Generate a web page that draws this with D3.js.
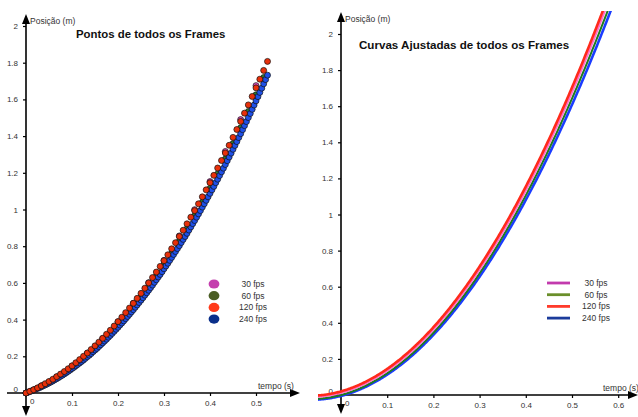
<!DOCTYPE html>
<html><head><meta charset="utf-8">
<script src="https://cdn.jsdelivr.net/npm/d3@7"></script>
<style>
html,body{margin:0;padding:0;background:#fff;}
svg{display:block;}
text{font-family:"Liberation Sans",Arial,sans-serif;}
</style></head>
<body>
<svg id="chart" width="638" height="417"></svg>
<script>
// ---------- DATA ----------
const seriesNames = ["30 fps", "60 fps", "120 fps", "240 fps"];
const fpsRates = [30, 60, 120, 240];
// positions (m) per frame, frame i at time i/fps
const pos30 = [0, 0.039, 0.088, 0.147, 0.217, 0.297, 0.388, 0.489, 0.601, 0.723, 0.856, 0.999, 1.152, 1.316, 1.490, 1.675];
const pos60 = [0, 0.017, 0.037, 0.059, 0.083, 0.110, 0.140, 0.173, 0.208, 0.245, 0.285, 0.328, 0.373, 0.421, 0.471, 0.524,
  0.579, 0.637, 0.698, 0.761, 0.827, 0.895, 0.966, 1.039, 1.115, 1.194, 1.275, 1.359, 1.445, 1.534, 1.625, 1.719];
const pos120 = [0, 0.009, 0.018, 0.028, 0.039, 0.051, 0.063, 0.075, 0.089, 0.103, 0.117, 0.132, 0.148, 0.165, 0.182, 0.200,
  0.218, 0.237, 0.257, 0.277, 0.298, 0.320, 0.342, 0.365, 0.389, 0.413, 0.438, 0.463, 0.489, 0.516, 0.543, 0.571,
  0.600, 0.629, 0.659, 0.690, 0.721, 0.753, 0.786, 0.819, 0.853, 0.887, 0.922, 0.958, 0.994, 1.031, 1.069, 1.107,
  1.146, 1.186, 1.226, 1.267, 1.308, 1.350, 1.393, 1.436, 1.480, 1.525, 1.570, 1.616, 1.663, 1.710, 1.758, 1.807];
const pos240 = [0, 0.004, 0.008, 0.012, 0.016, 0.020, 0.025, 0.029, 0.034, 0.039, 0.044, 0.049, 0.055, 0.060, 0.066, 0.072,
  0.078, 0.084, 0.091, 0.097, 0.104, 0.111, 0.118, 0.125, 0.133, 0.140, 0.148, 0.156, 0.164, 0.172, 0.180, 0.189,
  0.198, 0.206, 0.215, 0.225, 0.234, 0.243, 0.253, 0.263, 0.273, 0.283, 0.293, 0.304, 0.314, 0.325, 0.336, 0.347,
  0.358, 0.370, 0.381, 0.393, 0.405, 0.417, 0.429, 0.442, 0.454, 0.467, 0.480, 0.493, 0.506, 0.519, 0.533, 0.546,
  0.560, 0.574, 0.588, 0.603, 0.617, 0.632, 0.646, 0.661, 0.677, 0.692, 0.707, 0.723, 0.739, 0.755, 0.771, 0.787,
  0.803, 0.820, 0.837, 0.853, 0.870, 0.888, 0.905, 0.923, 0.940, 0.958, 0.976, 0.994, 1.013, 1.031, 1.050, 1.069,
  1.088, 1.107, 1.126, 1.146, 1.165, 1.185, 1.205, 1.225, 1.245, 1.266, 1.286, 1.307, 1.328, 1.349, 1.370, 1.392,
  1.413, 1.435, 1.457, 1.479, 1.501, 1.523, 1.546, 1.569, 1.592, 1.615, 1.638, 1.661, 1.685, 1.708, 1.732];
// fitted quadratic coefficients y = a t^2 + b t + c
const fitA = [5.26, 5.20, 5.30, 5.12];
const fitB = [0.70, 0.685, 0.717, 0.666];
const fitC = [0.012, 0.0, 0.02, -0.005];
const yTicks = [0.2, 0.4, 0.6, 0.8, 1, 1.2, 1.4, 1.6, 1.8, 2];
const xTicksL = [0.1, 0.2, 0.3, 0.4, 0.5];
const xTicksR = [0.1, 0.2, 0.3, 0.4, 0.5, 0.6];

// ---------- STYLE ----------
const pointFill = ["#e050c0", "#2e7d2e", "#e8300a", "#1f50e8"];
const legendDot = ["#c43fae", "#4b5e25", "#ff3a1a", "#0b2f8a"];
const curveCol = ["#ff70cc", "#1f7a1f", "#ff2a1a", "#1a3cff"];
const curveW = [2.2, 2, 2.6, 2.6];
const legendLine = ["#c23aad", "#6a8f2a", "#ff3b2b", "#1b3b9b"];

const svg = d3.select("#chart");
const fmt = d3.format("~g");

function drawAxes(g, x, y, opt) {
  const ya = d3.axisLeft(y).tickValues(yTicks).tickSize(3).tickPadding(5).tickFormat(fmt);
  const yg = g.append("g").attr("transform", `translate(${x(0)},0)`).call(ya);
  const xa = d3.axisBottom(x).tickValues(opt.xt).tickSize(3).tickPadding(4).tickFormat(fmt);
  const xg = g.append("g").attr("transform", `translate(0,${y(0)})`).call(xa);
  [yg, xg].forEach(a => {
    a.select(".domain").remove();
    a.selectAll(".tick line").attr("stroke", "#000").attr("stroke-width", 1.2);
    a.selectAll(".tick text").attr("fill", "#333").style("font-size", "8px").style("font-family", "Liberation Sans, Arial, sans-serif");
  });
  g.append("text").attr("x", x(0) - 8).attr("y", y(0) - 1).attr("text-anchor", "end")
    .attr("fill", "#333").style("font-size", "8px").text("0");
  g.append("text").attr("x", x(0) + 4).attr("y", y(0) + 11)
    .attr("fill", "#333").style("font-size", "8px").text("0");
  const X0 = x(0), Y0 = y(0);
  g.append("line").attr("x1", opt.xStart).attr("x2", opt.xEnd - 8).attr("y1", Y0).attr("y2", Y0)
    .attr("stroke", "#000").attr("stroke-width", 1.6);
  g.append("path").attr("d", `M${opt.xEnd},${Y0} L${opt.xEnd - 10},${Y0 - 4} L${opt.xEnd - 10},${Y0 + 4} Z`).attr("fill", "#000");
  g.append("line").attr("x1", X0).attr("x2", X0).attr("y1", opt.yTop + 8).attr("y2", opt.yBot - 8)
    .attr("stroke", "#000").attr("stroke-width", 1.6);
  g.append("path").attr("d", `M${X0},${opt.yTop} L${X0 - 4},${opt.yTop + 10} L${X0 + 4},${opt.yTop + 10} Z`).attr("fill", "#000");
  g.append("path").attr("d", `M${X0},${opt.yBot} L${X0 - 4},${opt.yBot - 10} L${X0 + 4},${opt.yBot - 10} Z`).attr("fill", "#000");
  g.append("text").attr("x", X0 + 4).attr("y", opt.yTop + 10).attr("fill", "#333")
    .style("font-size", "8.5px").text("Posição (m)");
  g.append("text").attr("x", opt.tx).attr("y", Y0 - 4).attr("fill", "#333")
    .style("font-size", "8.5px").text("tempo (s)");
}

// ---------- LEFT PANEL ----------
const xL = d3.scaleLinear().domain([0, 0.5]).range([26, 256]);
const yL = d3.scaleLinear().domain([0, 2]).range([393, 26]);
const gL = svg.append("g");
drawAxes(gL, xL, yL, {xt: xTicksL, xStart: 7, xEnd: 300, yTop: 14, yBot: 416, tx: 258});

const allPos = [pos30, pos60, pos120, pos240];
const drawOrder = [0, 1, 3, 2];
drawOrder.forEach(k => {
  gL.append("g").selectAll("circle").data(allPos[k]).join("circle")
    .attr("cx", (d, i) => xL(i / fpsRates[k]))
    .attr("cy", d => yL(d))
    .attr("r", 3)
    .attr("fill", pointFill[k])
    .attr("stroke", "#111").attr("stroke-width", 0.7);
});

gL.append("text").attr("x", 76).attr("y", 38).attr("font-weight", "bold")
  .attr("fill", "#111").style("font-size", "11.4px").text("Pontos de todos os Frames");

const legL = gL.append("g");
seriesNames.forEach((n, k) => {
  const yy = 284 + k * 11.7;
  legL.append("ellipse").attr("cx", 214).attr("cy", yy).attr("rx", 5.4).attr("ry", 4.6).attr("fill", legendDot[k]);
  legL.append("text").attr("x", 253).attr("y", yy + 3).attr("text-anchor", "middle")
    .attr("fill", "#333").style("font-size", "8.5px").text(n);
});

// ---------- RIGHT PANEL ----------
const xR = d3.scaleLinear().domain([0, 0.6]).range([341, 618.2]);
const yR = d3.scaleLinear().domain([0, 2]).range([395, 34]);
const gR = svg.append("g");
svg.append("defs").append("clipPath").attr("id", "clipR").append("rect")
  .attr("x", 318).attr("y", 11).attr("width", 320).attr("height", 406);
drawAxes(gR, xR, yR, {xt: xTicksR, xStart: 318, xEnd: 638, yTop: 12, yBot: 414, tx: 603});

const tSamples = d3.range(-0.06, 0.62, 0.002);
const curveOrder = [3, 1, 0, 2];
const gc = gR.append("g").attr("clip-path", "url(#clipR)");
curveOrder.forEach(k => {
  const line = d3.line()
    .x(t => xR(t))
    .y(t => yR(fitA[k] * t * t + fitB[k] * t + fitC[k]));
  gc.append("path").datum(tSamples).attr("d", line)
    .attr("fill", "none").attr("stroke", curveCol[k]).attr("stroke-width", curveW[k]);
});

gR.append("text").attr("x", 359).attr("y", 49).attr("font-weight", "bold")
  .attr("fill", "#111").style("font-size", "11.6px").text("Curvas Ajustadas de todos os Frames");

const legR = gR.append("g");
seriesNames.forEach((n, k) => {
  const yy = 283 + k * 11.7;
  legR.append("line").attr("x1", 547).attr("x2", 570).attr("y1", yy).attr("y2", yy)
    .attr("stroke", legendLine[k]).attr("stroke-width", 2.8);
  legR.append("text").attr("x", 596).attr("y", yy + 3).attr("text-anchor", "middle")
    .attr("fill", "#333").style("font-size", "8.5px").text(n);
});
</script>
</body></html>
